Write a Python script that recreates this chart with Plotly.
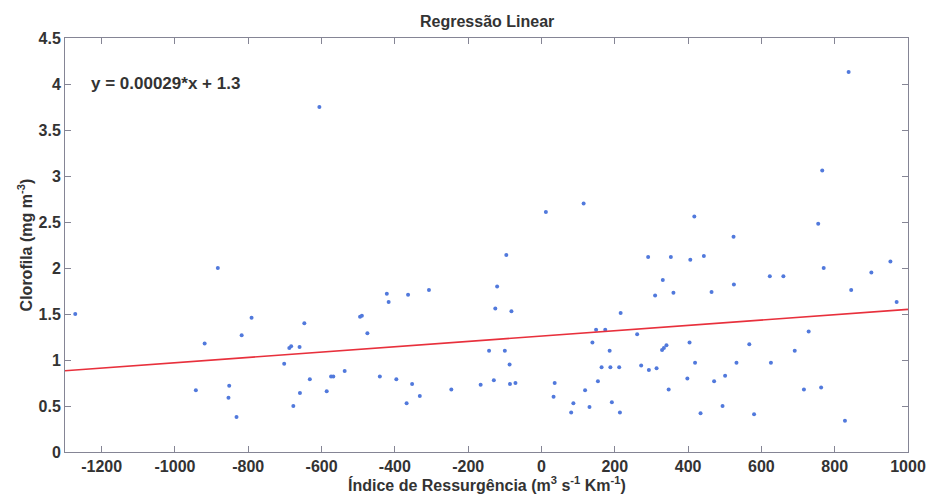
import numpy as np
import plotly.graph_objects as go

# Upwelling index (m3 s-1 Km-1) and chlorophyll (mg m-3) samples
upwelling = [
    -1272, -883, -919, -943, -818, -791, -852, -854, -832,
    -702, -688, -683, -660, -647, -677, -659, -632, -586, -574, -568,
    -537, -495, -490, -475, -441, -422, -417, -396, -364, -368, -353,
    -332, -307, -246, -166,
    -96, -121, -126, -82, -143, -100, -87, -130, -86, -71,
    36, 33, 81, 87, 119, 131, 139, 149, 154, 164, 174, 186, 188, 192,
    212, 216, 214, 261, 272, 291, 293, 310, 314, 331, 329, 334, 341,
    347, 353, 360, 406, 404, 398,
    419, 443, 434, 464, 471, 494, 501, 525, 532, 567, 580, 623, 626,
    660, 691, 716, 729, 763, 770, 828, 845, 900, 952, 969,
    -606, 12, 115, 417, 524, 755, 766, 838,
]
chlorophyll = [
    1.50, 2.00, 1.18, 0.67, 1.27, 1.46, 0.72, 0.59, 0.38,
    0.96, 1.13, 1.15, 1.14, 1.40, 0.50, 0.64, 0.79, 0.66, 0.82, 0.82,
    0.88, 1.47, 1.48, 1.29, 0.82, 1.72, 1.63, 0.79, 1.71, 0.53, 0.74,
    0.61, 1.76, 0.68, 0.73,
    2.14, 1.80, 1.56, 1.53, 1.10, 1.10, 0.95, 0.78, 0.74, 0.75,
    0.75, 0.60, 0.43, 0.53, 0.67, 0.49, 1.19, 1.33, 0.77, 0.92, 1.33, 1.10, 0.92, 0.54,
    0.92, 1.51, 0.43, 1.28, 0.94, 2.12, 0.89, 1.70, 0.91, 1.87, 1.11, 1.13, 1.16,
    0.68, 2.12, 1.73, 2.09, 1.19, 0.80,
    0.97, 2.13, 0.42, 1.74, 0.77, 0.50, 0.83, 1.82, 0.97, 1.17, 0.41, 1.91, 0.97,
    1.91, 1.10, 0.68, 1.31, 0.70, 2.00, 0.34, 1.76, 1.95, 2.07, 1.63,
    3.75, 2.61, 2.70, 2.56, 2.34, 2.48, 3.06, 4.13,
]

# Fitted regression coefficients
slope = 0.00029
intercept = 1.26

x_ticks = [-1200, -1000, -800, -600, -400, -200, 0, 200, 400, 600, 800, 1000]
x_tick_text = ["-1200", "-1000", "-800", "-600", "-400", "-200", "0", "200", "400", "600", "800", "1000"]
y_ticks = [0, 0.5, 1, 1.5, 2, 2.5, 3, 3.5, 4, 4.5]
y_tick_text = ["0", "0.5", "1", "1.5", "2", "2.5", "3", "3.5", "4", "4.5"]

x_range = [-1300, 1000]
y_range = [0, 4.5]

FONT = "Liberation Sans, Arial, sans-serif"
TEXT = "#333333"
FRAME = "#858595"

line_x = np.array(x_range, dtype=float)
line_y = slope * line_x + intercept

fig = go.Figure()
fig.add_trace(go.Scatter(
    x=upwelling, y=chlorophyll, mode="markers",
    marker=dict(color="#5179dc", size=4, line=dict(width=0)),
    showlegend=False, hoverinfo="x+y",
))
fig.add_trace(go.Scatter(
    x=line_x, y=line_y, mode="lines",
    line=dict(color="#e8303c", width=1.6),
    showlegend=False,
))

axis_common = dict(
    showgrid=False, zeroline=False, showline=True, linecolor=FRAME, linewidth=1,
    mirror="ticks", ticks="inside", ticklen=6, tickcolor=FRAME, tickwidth=1,
    tickfont=dict(family=FONT, size=16, color=TEXT, weight="bold"),
)
fig.update_xaxes(range=x_range, tickvals=x_ticks, ticktext=x_tick_text, **axis_common)
fig.update_yaxes(range=y_range, tickvals=y_ticks, ticktext=y_tick_text,
                 ticklabelstandoff=0, **axis_common)

label_font = dict(family=FONT, size=16, color=TEXT, weight="bold")
fig.add_annotation(text="Regressão Linear", xref="paper", yref="paper",
                   x=0.5, y=1.04, xanchor="center", yanchor="middle",
                   showarrow=False, font=label_font)
fig.add_annotation(text="Índice de Ressurgência (m<sup>3</sup> s<sup>-1</sup> Km<sup>-1</sup>)",
                   xref="paper", yref="paper", x=0.5, y=-0.078,
                   xanchor="center", yanchor="middle", showarrow=False, font=label_font)
fig.add_annotation(text="Clorofila (mg m<sup>-3</sup>)", xref="paper", yref="paper",
                   x=-0.047, y=0.5, xanchor="center", yanchor="middle", textangle=-90,
                   showarrow=False, font=label_font)
fig.add_annotation(text=f"y = {slope:.2g}*x + {intercept:.2g}", xref="paper", yref="paper",
                   x=0.028, y=0.89, xanchor="left", yanchor="middle", showarrow=False,
                   font=dict(family=FONT, size=17, color=TEXT, weight="bold"))

fig.update_layout(
    width=938, height=495,
    margin=dict(l=65, r=20, t=38, b=43),
    paper_bgcolor="white", plot_bgcolor="white",
)

fig.write_html("out.html")
